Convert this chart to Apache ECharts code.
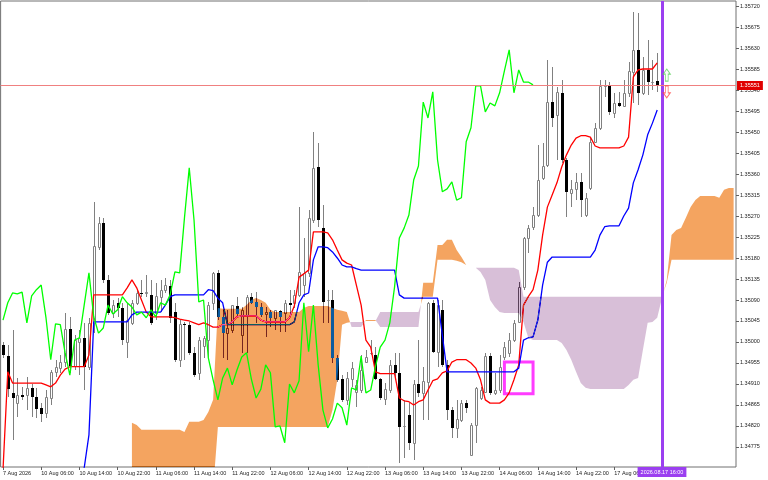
<!DOCTYPE html>
<html>
<head>
<meta charset="utf-8">
<script src="https://cdn.jsdelivr.net/npm/echarts@6.0.0/dist/echarts.min.js"></script>
<style>
html,body{margin:0;padding:0;background:#ffffff;}
#chart{width:768px;height:480px;}
</style>
</head>
<body>
<div id="chart"></div>
<script>
// ---------------- DATA (H1 bars, first bar 7 Aug 2026 22:00) ----------------
const openP = [
1.34994,1.34970,1.34891,1.34869,1.34887,1.34887,1.34902,1.34882,1.34859,1.34848,
1.34880,1.34936,1.34944,1.34957,1.35028,1.34949,1.35000,1.35009,1.34947,1.35041,
1.35204,1.35255,1.35133,1.35062,1.35084,1.35073,1.35000,1.35041,1.35084,1.35105,
1.35105,1.35101,1.35062,1.35097,1.35112,1.35120,1.35064,1.34962,1.35039,1.35037,
1.34977,1.34934,1.34992,1.35004,1.35084,1.35148,1.35054,1.35019,1.35026,1.35077,
1.35015,1.35058,1.35097,1.35086,1.35075,1.35060,1.35064,1.35052,1.35067,1.35062,
1.35084,1.35084,1.35101,1.35122,1.35148,1.35262,1.35375,1.35244,1.35090,1.35090,
1.34966,1.34921,1.34876,1.34921,1.34893,1.34897,1.34957,1.34977,1.34972,1.34921,
1.34878,1.34897,1.34951,1.34934,1.34820,1.34844,1.34784,1.34910,1.34891,1.34914,
1.35084,1.34979,1.35069,1.34951,1.34854,1.34816,1.34833,1.34869,1.34758,1.34822,
1.34880,1.34893,1.34970,1.34891,1.34897,1.34968,1.34977,1.35004,1.35043,1.35118,
1.35223,1.35247,1.35272,1.35352,1.35379,1.35514,1.35487,1.35534,1.35390,1.35319,
1.35328,1.35343,1.35272,1.35330,1.35429,1.35459,1.35549,1.35549,1.35491,1.35512,
1.35506,1.35534,1.35579,1.35626,1.35534,1.35583,1.35557,1.35559];
const highP = [
1.35000,1.34994,1.35026,1.34923,1.34904,1.34925,1.34910,1.34902,1.34869,1.34897,
1.34940,1.34962,1.34972,1.35062,1.35054,1.35015,1.35026,1.35041,1.35052,1.35300,
1.35268,1.35266,1.35144,1.35090,1.35094,1.35084,1.35084,1.35090,1.35112,1.35133,
1.35144,1.35133,1.35127,1.35133,1.35137,1.35133,1.35084,1.35047,1.35043,1.35043,
1.34989,1.35011,1.35013,1.35086,1.35150,1.35154,1.35069,1.35069,1.35079,1.35097,
1.35075,1.35101,1.35105,1.35107,1.35084,1.35075,1.35069,1.35069,1.35069,1.35090,
1.35112,1.35112,1.35289,1.35223,1.35283,1.35450,1.35427,1.35294,1.35112,1.35112,
1.34972,1.34929,1.34936,1.34957,1.34919,1.34972,1.34983,1.35004,1.34989,1.34923,
1.34912,1.34962,1.34977,1.34977,1.34876,1.34869,1.34919,1.35004,1.34947,1.35086,
1.35090,1.35090,1.35090,1.34962,1.34861,1.34876,1.34876,1.34876,1.34827,1.34904,
1.34904,1.34977,1.34977,1.34934,1.34972,1.35000,1.35019,1.35047,1.35129,1.35225,
1.35251,1.35289,1.35422,1.35427,1.35604,1.35589,1.35547,1.35562,1.35394,1.35347,
1.35362,1.35362,1.35319,1.35439,1.35469,1.35562,1.35562,1.35557,1.35534,1.35536,
1.35562,1.35600,1.35707,1.35705,1.35611,1.35647,1.35604,1.35619];
const lowP = [
1.34966,1.34882,1.34790,1.34839,1.34876,1.34854,1.34839,1.34837,1.34829,1.34837,
1.34865,1.34925,1.34934,1.34947,1.34934,1.34940,1.34929,1.34897,1.34940,1.35019,
1.35197,1.35127,1.35058,1.35052,1.35054,1.34994,1.34966,1.35037,1.35079,1.35097,
1.35097,1.35037,1.35047,1.35064,1.35105,1.35041,1.34957,1.34947,1.34962,1.34972,
1.34925,1.34919,1.34966,1.34966,1.35069,1.35047,1.34966,1.34962,1.35019,1.35056,
1.34977,1.34977,1.35082,1.35041,1.35054,1.35011,1.35032,1.35026,1.35022,1.35022,
1.35058,1.35073,1.35097,1.35097,1.35139,1.35255,1.35247,1.35041,1.35041,1.34955,
1.34914,1.34872,1.34865,1.34904,1.34861,1.34891,1.34955,1.34972,1.34919,1.34876,
1.34865,1.34891,1.34919,1.34741,1.34752,1.34769,1.34747,1.34882,1.34833,1.34833,
1.34977,1.34947,1.34947,1.34833,1.34794,1.34794,1.34829,1.34848,1.34756,1.34784,
1.34876,1.34891,1.34887,1.34887,1.34891,1.34962,1.34968,1.35000,1.35041,1.35112,
1.35191,1.35240,1.35268,1.35347,1.35375,1.35461,1.35390,1.35384,1.35268,1.35289,
1.35304,1.35268,1.35268,1.35326,1.35427,1.35454,1.35525,1.35487,1.35480,1.35504,
1.35504,1.35525,1.35512,1.35508,1.35529,1.35529,1.35540,1.35536];
const closeP = [
1.34972,1.34899,1.34880,1.34887,1.34882,1.34902,1.34882,1.34857,1.34846,1.34882,
1.34936,1.34947,1.34957,1.35028,1.34949,1.35004,1.35009,1.34947,1.35041,1.35206,
1.35255,1.35133,1.35062,1.35079,1.35073,1.35004,1.35047,1.35084,1.35105,1.35103,
1.35107,1.35041,1.35099,1.35112,1.35122,1.35052,1.34962,1.35039,1.35037,1.34977,
1.34929,1.35004,1.35009,1.35079,1.35148,1.35054,1.35019,1.35030,1.35079,1.35060,
1.35069,1.35097,1.35084,1.35075,1.35058,1.35064,1.35052,1.35069,1.35054,1.35084,
1.35079,1.35101,1.35150,1.35148,1.35266,1.35373,1.35262,1.35086,1.35090,1.34966,
1.34919,1.34876,1.34923,1.34944,1.34908,1.34940,1.34968,1.34977,1.34921,1.34880,
1.34899,1.34951,1.34934,1.34818,1.34820,1.34784,1.34910,1.34891,1.34917,1.35084,
1.34979,1.35079,1.34951,1.34854,1.34816,1.34835,1.34869,1.34859,1.34822,1.34902,
1.34897,1.34970,1.34891,1.34897,1.34947,1.34989,1.35004,1.35041,1.35118,1.35223,
1.35244,1.35272,1.35347,1.35377,1.35514,1.35480,1.35536,1.35390,1.35322,1.35328,
1.35343,1.35304,1.35309,1.35429,1.35459,1.35549,1.35549,1.35493,1.35512,1.35506,
1.35534,1.35581,1.35626,1.35534,1.35583,1.35557,1.35557,1.35551];

// Tenkan-sen (red) per bar
const tenkan = [
1.34726,1.34936,1.34912,1.34912,1.34912,1.34912,1.34912,1.34912,1.34912,1.34908,
1.34904,1.34912,1.34929,1.34942,1.34947,1.34947,1.34947,1.34947,1.34972,1.35101,
1.35101,1.35101,1.35101,1.35101,1.35101,1.35101,1.35116,1.35133,1.35116,1.35090,
1.35064,1.35054,1.35054,1.35054,1.35054,1.35054,1.35052,1.35049,1.35047,1.35045,
1.35041,1.35037,1.35041,1.35037,1.35032,1.35032,1.35037,1.35037,1.35043,1.35054,
1.35056,1.35056,1.35056,1.35056,1.35047,1.35043,1.35043,1.35043,1.35043,1.35043,
1.35052,1.35077,1.35139,1.35146,1.35154,1.35236,1.35236,1.35236,1.35234,1.35219,
1.35197,1.35176,1.35169,1.35165,1.35122,1.35079,1.35004,1.34989,1.34936,1.34932,
1.34932,1.34932,1.34932,1.34880,1.34874,1.34872,1.34865,1.34872,1.34876,1.34897,
1.34917,1.34921,1.34934,1.34938,1.34957,1.34962,1.34962,1.34962,1.34955,1.34944,
1.34919,1.34876,1.34869,1.34869,1.34869,1.34876,1.34891,1.34919,1.34951,1.35079,
1.35097,1.35112,1.35154,1.35229,1.35289,1.35315,1.35341,1.35375,1.35401,1.35422,
1.35437,1.35442,1.35442,1.35439,1.35420,1.35416,1.35416,1.35416,1.35416,1.35416,
1.35420,1.35439,1.35568,1.35583,1.35585,1.35585,1.35585,1.35598];

// Kijun-sen (blue), visible from bar 16
const kijunStart = 16;
const kijun = [
1.34683,1.34730,1.34801,1.35043,1.35043,1.35043,1.35043,1.35043,1.35043,1.35043,
1.35043,1.35058,1.35064,1.35064,1.35064,1.35064,1.35064,1.35064,1.35079,1.35097,
1.35101,1.35101,1.35101,1.35101,1.35101,1.35101,1.35101,1.35112,1.35110,1.35094,
1.35084,1.35037,1.35037,1.35037,1.35037,1.35037,1.35037,1.35037,1.35037,1.35037,
1.35037,1.35037,1.35037,1.35037,1.35037,1.35043,1.35084,1.35101,1.35105,1.35176,
1.35204,1.35204,1.35202,1.35193,1.35180,1.35165,1.35161,1.35161,1.35157,1.35154,
1.35154,1.35154,1.35154,1.35154,1.35154,1.35154,1.35154,1.35101,1.35094,1.35094,
1.35094,1.35094,1.35094,1.35094,1.35094,1.35094,1.35015,1.34936,1.34936,1.34936,
1.34936,1.34936,1.34936,1.34936,1.34936,1.34936,1.34936,1.34936,1.34936,1.34936,
1.34936,1.34936,1.34944,1.35004,1.35009,1.35011,1.35047,1.35122,1.35171,1.35182,
1.35182,1.35182,1.35182,1.35182,1.35182,1.35182,1.35182,1.35182,1.35197,1.35229,
1.35247,1.35249,1.35249,1.35249,1.35270,1.35287,1.35341,1.35369,1.35401,1.35444,
1.35469,1.35497];

// Senkou Span A / B (already shifted forward), from bar 27 to bar 153
const cloudStart = 27;
const senkouA = [
1.34827,1.34822,1.34812,1.34812,1.34812,1.34812,1.34812,1.34812,1.34812,1.34812,
1.34812,1.34807,1.34829,1.34829,1.34829,1.34833,1.34850,1.34876,1.35073,1.35071,
1.35071,1.35071,1.35071,1.35071,1.35079,1.35090,1.35094,1.35090,1.35084,1.35069,
1.35064,1.35064,1.35064,1.35064,1.35064,1.35064,1.35073,1.35077,1.35077,1.35077,
1.35077,1.35077,1.35073,1.35069,1.35067,1.35064,1.35032,1.35032,1.35032,1.35047,
1.35047,1.35047,1.35032,1.35032,1.35032,1.35032,1.35032,1.35032,1.35032,1.35032,
1.35032,1.35127,1.35127,1.35127,1.35208,1.35208,1.35219,1.35219,1.35197,1.35182,
1.35165,1.35161,1.35159,1.35150,1.35133,1.35090,1.35075,1.35064,1.35062,1.35062,
1.35062,1.35062,1.35043,1.35009,1.35004,1.35004,1.35004,1.35004,1.35004,1.35004,
1.34998,1.34983,1.34962,1.34936,1.34912,1.34902,1.34899,1.34899,1.34899,1.34899,
1.34899,1.34899,1.34899,1.34899,1.34908,1.34919,1.34923,1.34983,1.35041,1.35043,
1.35052,1.35094,1.35133,1.35229,1.35240,1.35244,1.35266,1.35289,1.35304,1.35313,
1.35313,1.35313,1.35313,1.35309,1.35326,1.35330,1.35330];
const senkouB = [
1.34683,1.34683,1.34683,1.34683,1.34683,1.34683,1.34683,1.34683,1.34683,1.34683,
1.34683,1.34683,1.34683,1.34683,1.34683,1.34683,1.34683,1.34683,1.34818,1.34818,
1.34818,1.34818,1.34818,1.34818,1.34818,1.34818,1.34818,1.34818,1.34818,1.34818,
1.34818,1.34818,1.34818,1.34818,1.34818,1.34818,1.34818,1.34818,1.34818,1.34818,
1.34818,1.34818,1.34854,1.34919,1.35037,1.35041,1.35043,1.35043,1.35043,1.35045,
1.35045,1.35045,1.35064,1.35064,1.35064,1.35064,1.35064,1.35064,1.35064,1.35064,
1.35064,1.35097,1.35097,1.35097,1.35176,1.35176,1.35176,1.35176,1.35174,1.35171,
1.35165,1.35161,1.35159,1.35159,1.35159,1.35159,1.35159,1.35159,1.35159,1.35159,
1.35159,1.35154,1.35097,1.35097,1.35097,1.35097,1.35097,1.35097,1.35097,1.35097,
1.35097,1.35097,1.35097,1.35097,1.35097,1.35097,1.35097,1.35097,1.35097,1.35097,
1.35097,1.35097,1.35097,1.35097,1.35097,1.35097,1.35097,1.35097,1.35097,1.35097,
1.35097,1.35097,1.35127,1.35176,1.35176,1.35176,1.35176,1.35176,1.35176,1.35176,
1.35176,1.35176,1.35176,1.35176,1.35176,1.35176,1.35176];

const chikouShift = 26;
const currentPrice = 1.35551;
const markerBar = 138;                 // 2026.08.17 16:00
const markerLabel = '2026.08.17 16:00';
const signalUp = 1.35572, signalDown = 1.35536;
const boxFrom = [105, 1.34957], boxTo = [111, 1.34889];

const yTicks = [1.34775,1.34820,1.34865,1.34910,1.34955,1.35000,1.35045,1.35090,1.35135,1.35180,
  1.35225,1.35270,1.35315,1.35360,1.35405,1.35450,1.35495,1.35540,1.35585,1.35630,1.35675,1.35720];
const xTickBars = [0,8,16,24,32,40,48,56,64,72,80,88,96,104,112,120,128];
const xTickText = ['7 Aug 2026','10 Aug 06:00','10 Aug 14:00','10 Aug 22:00','11 Aug 06:00','11 Aug 14:00',
  '11 Aug 22:00','12 Aug 06:00','12 Aug 14:00','12 Aug 22:00','13 Aug 06:00','13 Aug 14:00','13 Aug 22:00',
  '14 Aug 06:00','14 Aug 14:00','14 Aug 22:00','17 Aug 06:00'];

// ---------------- build ----------------
const NSLOTS = 154;
const cats = [];
(function(){
  let t = Date.UTC(2026,7,7,22);
  for (let i = 0; i < NSLOTS; i++) {
    const d = new Date(t);
    cats.push(d.toISOString().slice(0,13));
    do { t += 3600000; } while ([0,6].includes(new Date(t).getUTCDay()));
  }
})();
const tickMap = {};
xTickBars.forEach((b,k) => tickMap[b] = xTickText[k]);

const FONT = 'Liberation Sans';
const WICK = '#808080';

const candleData = openP.map((o,i) => [i, o, closeP[i], lowP[i], highP[i]]);
function candleItem(params, api) {
  const i = api.value(0);
  const o = api.value(1), c = api.value(2), l = api.value(3), h = api.value(4);
  const ph = api.coord([i, h]), pl = api.coord([i, l]);
  const po = api.coord([i, o]), pc = api.coord([i, c]);
  const cx = Math.round(ph[0]);
  const yTop = Math.round(Math.min(po[1], pc[1]));
  const yBot = Math.round(Math.max(po[1], pc[1]));
  const kids = [{
    type: 'line',
    shape: {x1: cx + 0.5, y1: Math.round(ph[1]), x2: cx + 0.5, y2: Math.round(pl[1])},
    style: {stroke: WICK, lineWidth: 1}
  }];
  if (c >= o) {
    kids.push({type: 'rect', shape: {x: cx - 0.5, y: yTop + 0.5, width: 2, height: Math.max(yBot - yTop, 0)},
      style: {fill: '#ffffff', stroke: WICK, lineWidth: 1}});
  } else {
    kids.push({type: 'rect', shape: {x: cx - 1, y: yTop, width: 3, height: Math.max(yBot - yTop, 1)},
      style: {fill: '#000000'}});
  }
  return {type: 'group', children: kids};
}

// cloud: drawn in "difference" mode (reads sandybrown / thistle on white), plain fallback
const UP_DIFF = '#0b5b9f', DN_DIFF = '#274027';
const UP_FILL = '#f4a460', DN_FILL = '#d8bfd8';
let useBlend = true;
function cloudItem(params, api) {
  const kids = [];
  const P = k => [api.coord([cloudStart + k, senkouA[k]]), api.coord([cloudStart + k, senkouB[k]])];
  let cur = null;
  const flush = () => {
    if (cur) kids.push({type: 'polygon',
      shape: {points: cur.top.concat(cur.bot.slice().reverse())},
      style: useBlend ? {fill: cur.up ? UP_DIFF : DN_DIFF, blend: 'difference'}
                      : {fill: cur.up ? UP_FILL : DN_FILL}});
  };
  for (let k = 0; k < senkouA.length; k++) {
    const ab = P(k);
    const up = senkouA[k] >= senkouB[k];
    if (!cur) { cur = {up, top: [ab[0]], bot: [ab[1]]}; continue; }
    if (up === cur.up) { cur.top.push(ab[0]); cur.bot.push(ab[1]); continue; }
    const prev = P(k - 1);
    const d0 = senkouA[k-1] - senkouB[k-1], d1 = senkouA[k] - senkouB[k];
    const t = d0 / (d0 - d1);
    const X = [prev[0][0] + t * (ab[0][0] - prev[0][0]), prev[0][1] + t * (ab[0][1] - prev[0][1])];
    cur.top.push(X); flush();
    cur = {up, top: [X, ab[0]], bot: [ab[1]]};
  }
  flush();
  return {type: 'group', children: kids};
}

// current-price line (1px filled band) with its axis tag
function priceItem(params, api) {
  const cs = params.coordSys;
  const v = api.value(1);
  const y = Math.round(api.coord([0, v])[1]);
  return {type: 'group', children: [
    {type: 'rect', shape: {x: cs.x, y: y, width: cs.width, height: 1},
      style: {fill: '#f08080'}},
    {type: 'text', x: cs.x + cs.width + 1, y: y + 0.5,
      style: {text: v.toFixed(5), fill: '#ffffff', backgroundColor: '#e00000', padding: [2, 3, 1, 3],
        fontSize: 5.5, fontFamily: FONT, align: 'left', verticalAlign: 'middle'}}
  ]};
}

const kijunData = new Array(kijunStart).fill(null).concat(kijun);
const chikouData = closeP.slice(chikouShift);

function buildOption() {
  return {
  animation: false,
  backgroundColor: '#ffffff',
  grid: {left: 0, right: 32, top: 1, bottom: 13, show: true, borderColor: '#707070', borderWidth: 1},
  xAxis: {
    type: 'category', data: cats, boundaryGap: true,
    axisLine: {show: false},
    axisTick: {show: true, alignWithLabel: true, length: 3, lineStyle: {color: '#606060'},
      interval: (idx) => tickMap[idx] !== undefined},
    axisLabel: {show: true, interval: (idx) => tickMap[idx] !== undefined,
      formatter: (v, idx) => tickMap[idx] || '', align: 'left', margin: 3,
      fontSize: 5.5, fontFamily: FONT, color: '#222'},
    splitLine: {show: false}
  },
  yAxis: {
    type: 'value', position: 'right', scale: true, min: 1.347321, max: 1.357307,
    axisLine: {show: false},
    axisTick: {show: true, length: 3, lineStyle: {color: '#606060'}, customValues: yTicks},
    axisLabel: {show: true, customValues: yTicks, formatter: v => v.toFixed(5), margin: 4,
      fontSize: 5.5, fontFamily: FONT, color: '#222'},
    splitLine: {show: false}
  },
  series: [
    {type: 'custom', name: 'candles', z: 1, data: candleData, renderItem: candleItem,
      encode: {x: 0, y: [1,2,3,4]}},
    {type: 'line', name: 'tenkan', z: 2, data: tenkan, showSymbol: false, symbol: 'none',
      lineStyle: {color: '#ff0000', width: 1.3}},
    {type: 'line', name: 'kijun', z: 2, data: kijunData, showSymbol: false, symbol: 'none',
      lineStyle: {color: '#0000ff', width: 1.3}},
    {type: 'custom', name: 'kumo', z: useBlend ? 3 : 0, clip: true, data: [[cloudStart, senkouA[0]]],
      renderItem: cloudItem, encode: {x: 0, y: 1}},
    {type: 'line', name: 'chikou', z: 4, data: chikouData, showSymbol: false, symbol: 'none',
      lineStyle: {color: '#00ff00', width: 1.3}},
    {type: 'custom', name: 'price', zlevel: 1, z: 5, data: [[0, currentPrice]], renderItem: priceItem,
      encode: {x: 0, y: 1}},
    {type: 'scatter', name: 'signals', zlevel: 1, z: 6,
      data: [
        {value: [cats[markerBar + 1], signalUp], symbol: 'path://M5,0 L10,5 L7,5 L7,12 L3,12 L3,5 L0,5 Z',
          itemStyle: {color: 'rgba(0,0,0,0)', borderColor: '#5ad25a', borderWidth: 1}},
        {value: [cats[markerBar + 1], signalDown], symbol: 'path://M3,0 L7,0 L7,7 L10,7 L5,12 L0,7 L3,7 Z',
          itemStyle: {color: 'rgba(0,0,0,0)', borderColor: '#ff4a4a', borderWidth: 1}}
      ],
      symbolSize: [7, 12],
      markLine: {
        silent: true, symbol: 'none', animation: false,
        data: [
          {xAxis: cats[markerBar], lineStyle: {color: '#9b3ff0', width: 3, type: 'solid'},
            label: {show: true, position: 'start', formatter: markerLabel, distance: 0,
              backgroundColor: '#9b3ff0', color: '#ffffff', fontSize: 5.5, fontFamily: FONT, padding: [2, 3]}}
        ]
      },
      markArea: {
        silent: true,
        itemStyle: {color: 'rgba(0,0,0,0)', borderColor: '#ff3cff', borderWidth: 3},
        data: [[{xAxis: cats[boxFrom[0]], yAxis: boxFrom[1]}, {xAxis: cats[boxTo[0]], yAxis: boxTo[1]}]]
      }
    }
  ]};
}

const chart = echarts.init(document.getElementById('chart'), null, {renderer: 'canvas'});
chart.setOption(buildOption());

// make sure the cloud uses the difference blend; fall back to plain fills if unsupported
(function(){
  try {
    const zr = chart.getZr();
    zr.storage.getDisplayList(true).forEach(el => {
      if (el.style && (el.style.fill === UP_DIFF || el.style.fill === DN_DIFF)) {
        el.style.blend = 'difference';
        el.markRedraw();
      }
    });
    zr.refreshImmediately();
    const p = chart.convertToPixel({xAxisIndex: 0, yAxisIndex: 0}, [cats[32], 1.34775]);
    const cv = chart.getDom().querySelector('canvas');
    const px = cv.getContext('2d').getImageData(Math.round(p[0]), Math.round(p[1]), 1, 1).data;
    if (px[0] < 150) throw new Error('no blend');
  } catch (e) {
    useBlend = false;
    chart.setOption(buildOption(), true);
  }
})();
</script>
</body>
</html>
